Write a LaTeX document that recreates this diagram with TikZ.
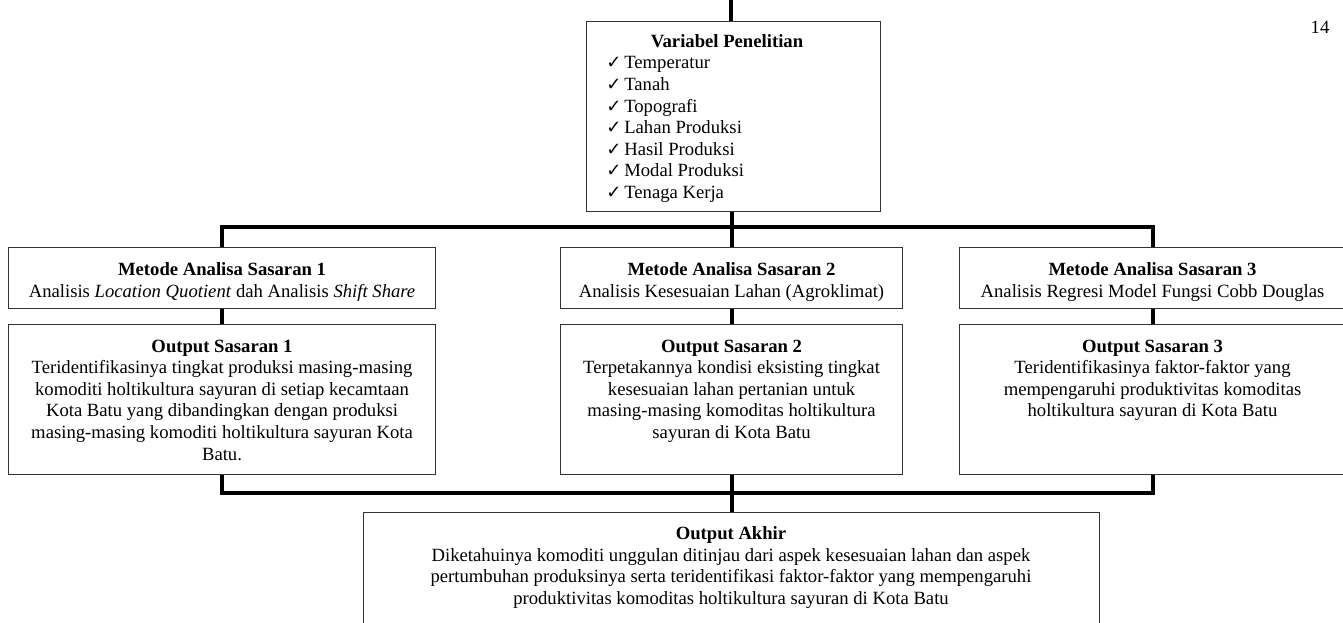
\documentclass[tikz,border=0pt]{standalone}
\usepackage{fontspec}
\setmainfont{Liberation Serif}
\newfontfamily\symfont{DejaVu Sans}
\usetikzlibrary{calc}
\newcommand{\chk}{\makebox[13.5pt][l]{\symfont\fontsize{13.5}{13.5}\selectfont ✓}}
\begin{document}
\begin{tikzpicture}[x=0.75pt,y=-0.75pt,
  box/.style={draw=black!80, line width=0.8pt, inner sep=0pt, anchor=north west},
  txt/.style={inner sep=0pt, align=center, font=\fontsize{14}{16.2}\selectfont, anchor=north},
  conn/.style={line width=3pt, line join=miter}]
\useasboundingbox (0,0) rectangle (1343,622);

% boxes
\node[box, minimum width=294*0.75pt, minimum height=190*0.75pt] (top) at (586,21) {};
\node[box, minimum width=427*0.75pt, minimum height=61*0.75pt] (m1) at (8,247) {};
\node[box, minimum width=427*0.75pt, minimum height=150*0.75pt] (o1) at (8,324) {};
\node[box, minimum width=342*0.75pt, minimum height=61*0.75pt] (m2) at (560,247) {};
\node[box, minimum width=342*0.75pt, minimum height=150*0.75pt] (o2) at (560,324) {};
\node[box, minimum width=386*0.75pt, minimum height=61*0.75pt] (m3) at (959,247) {};
\node[box, minimum width=386*0.75pt, minimum height=150*0.75pt] (o3) at (959,324) {};
\node[box, minimum width=736*0.75pt, minimum height=130*0.75pt] (ak) at (363,512) {};

% texts
\node[txt] (topt) at (727,34.5) {\textbf{Variabel Penelitian}};
\node[txt, align=left, anchor=north west] (topl) at (606,56.5) {\chk Temperatur\\ \chk Tanah\\ \chk Topografi\\ \chk Lahan Produksi\\ \chk Hasil Produksi\\ \chk Modal Produksi\\ \chk Tenaga Kerja};

\node[txt] (m1t) at ($(m1.north)+(0,15.5)$) {\textbf{Metode Analisa Sasaran 1}\\Analisis \textit{Location Quotient} dah Analisis \textit{Shift Share}};
\node[txt] (m2t) at ($(m2.north)+(0,15.5)$) {\textbf{Metode Analisa Sasaran 2}\\Analisis Kesesuaian Lahan (Agroklimat)};
\node[txt] (m3t) at ($(m3.north)+(0,15.5)$) {\textbf{Metode Analisa Sasaran 3}\\Analisis Regresi Model Fungsi Cobb Douglas};

\node[txt] (o1t) at ($(o1.north)+(0,15.5)$) {\textbf{Output Sasaran 1}\\Teridentifikasinya tingkat produksi masing-masing\\komoditi holtikultura sayuran di setiap kecamtaan\\Kota Batu yang dibandingkan dengan produksi\\masing-masing komoditi holtikultura sayuran Kota\\Batu.};
\node[txt] (o2t) at ($(o2.north)+(0,15.5)$) {\textbf{Output Sasaran 2}\\Terpetakannya kondisi eksisting tingkat\\kesesuaian lahan pertanian untuk\\masing-masing komoditas holtikultura\\sayuran di Kota Batu};
\node[txt] (o3t) at ($(o3.north)+(0,15.5)$) {\textbf{Output Sasaran 3}\\Teridentifikasinya faktor-faktor yang\\mempengaruhi produktivitas komoditas\\holtikultura sayuran di Kota Batu};

\node[txt] (akt) at (731,526.5) {\textbf{Output Akhir}\\Diketahuinya komoditi unggulan ditinjau dari aspek kesesuaian lahan dan aspek\\pertumbuhan produksinya serta teridentifikasi faktor-faktor yang mempengaruhi\\produktivitas komoditas holtikultura sayuran di Kota Batu};

\node[txt, anchor=center] (pg) at (1320,27) {14};

% connectors
\coordinate (tin) at (731,-5);
\coordinate (j1) at (731,227);
\coordinate (j2) at (731,493);
\draw[conn] (tin) -- (tin |- top.north);
\draw[conn] (m2.north |- top.south) -- (m2.north);
\draw[conn] (m1.north) |- (j1) -| (m3.north);
\draw[conn] (m1.south) -- (o1.north);
\draw[conn] (m2.south) -- (o2.north);
\draw[conn] (m3.south) -- (o3.north);
\draw[conn] (o1.south) |- (j2) -| (o3.south);
\draw[conn] (o2.south) -- (ak.north);
\end{tikzpicture}
\end{document}
